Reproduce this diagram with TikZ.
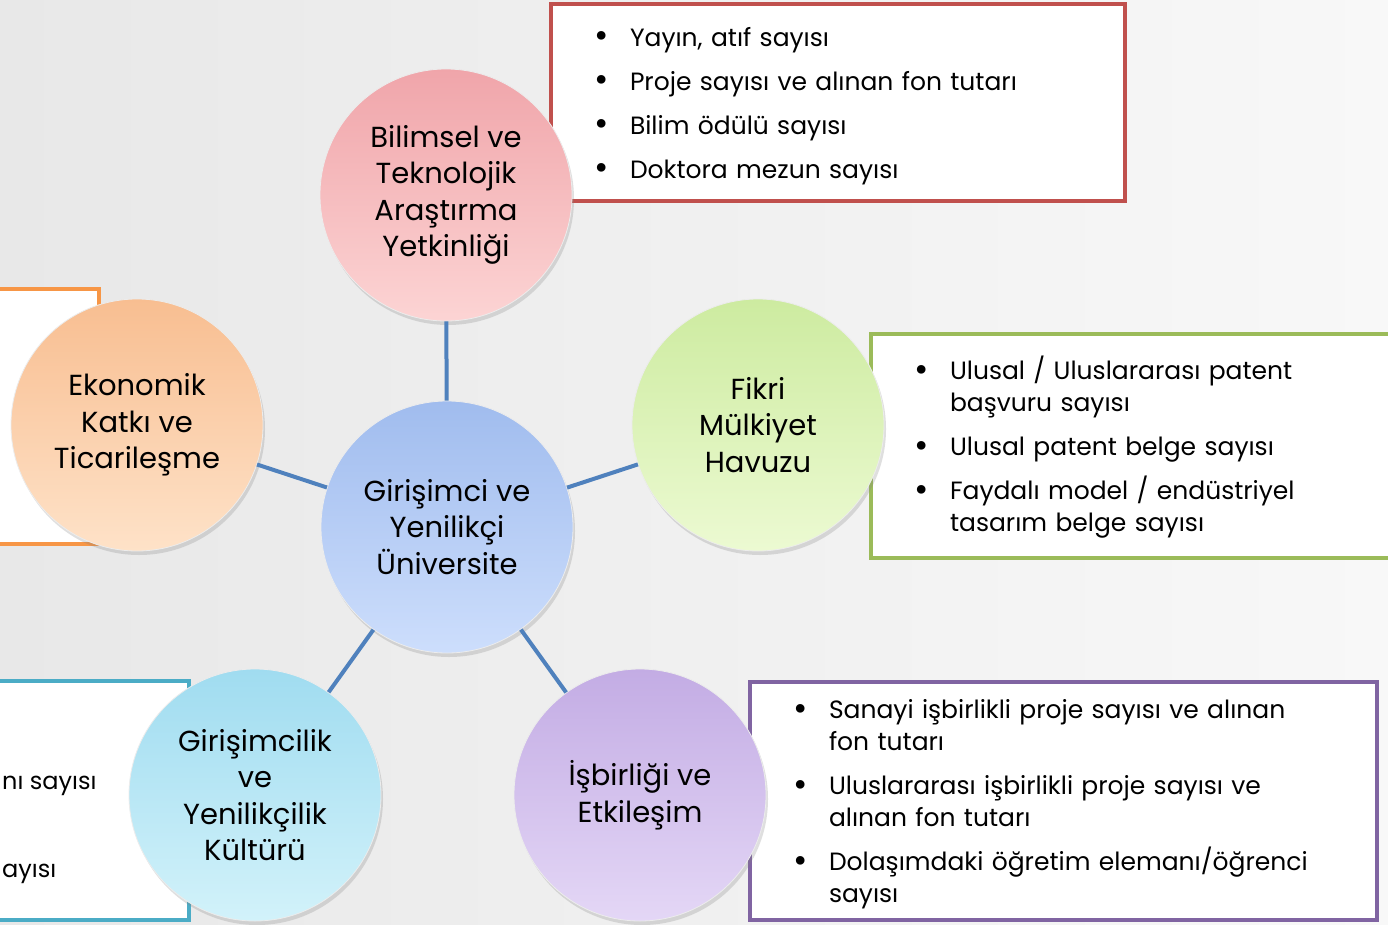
\documentclass[tikz,border=0pt]{standalone}
\usepackage{fontspec}
\setmainfont{Poppins}
\usetikzlibrary{shadows}
\definecolor{bgA}{RGB}{232,232,232}
\definecolor{bgB}{RGB}{248,248,248}
\definecolor{linkc}{RGB}{79,129,189}
\definecolor{redb}{RGB}{192,80,77}
\definecolor{greenb}{RGB}{155,187,89}
\definecolor{purpleb}{RGB}{128,100,162}
\definecolor{orangeb}{RGB}{247,150,70}
\definecolor{cyanb}{RGB}{75,172,198}
\definecolor{pinkT}{RGB}{240,165,170}\definecolor{pinkB}{RGB}{252,212,212}
\definecolor{blueT}{RGB}{160,188,238}\definecolor{blueB}{RGB}{205,222,252}
\definecolor{grnT}{RGB}{205,235,160}\definecolor{grnB}{RGB}{236,250,210}
\definecolor{purT}{RGB}{195,172,228}\definecolor{purB}{RGB}{228,215,246}
\definecolor{cyaT}{RGB}{160,220,240}\definecolor{cyaB}{RGB}{210,242,250}
\definecolor{oraT}{RGB}{248,190,145}\definecolor{oraB}{RGB}{254,226,200}
\newcommand{\bitem}[1]{\par\noindent\hangindent=32pt\hangafter=1\makebox[32pt][l]{\hspace{-4pt}\raisebox{-1.5pt}{\scalebox{1.4}{\textbullet}}}#1}
\newcommand{\nl}{\hfil\break}
\tikzset{
  ball/.style 2 args={circle, minimum size=252pt, inner sep=0pt, align=center,
     top color=#1, bottom color=#2, draw=white!85!gray, line width=0.8pt,
     font=\fontsize{29}{36.5}\selectfont,
     drop shadow={opacity=0.25, shadow xshift=2pt, shadow yshift=-4pt}},
  infobox/.style={rectangle, draw=#1, line width=4pt, fill=white, inner xsep=47pt, inner ysep=0pt,
     outer sep=0pt, align=left, anchor=north west,
     font=\fontsize{25}{32}\selectfont\setlength{\parskip}{12pt}},
  sidebox/.style={rectangle, draw=#1, line width=4pt, fill=white, outer sep=0pt, anchor=north east},
  link/.style={draw=linkc, line width=4pt}
}
\begin{document}
\begin{tikzpicture}[x=1pt,y=-1pt]
\useasboundingbox (0,0) rectangle (1388,925);
\clip (0,0) rectangle (1388,925);
\shade[left color=bgA, right color=bgB] (0,0) rectangle (1388,925);
% boxes
\node[infobox=redb, minimum width=574pt, minimum height=197pt, text width=480pt] (rbox) at (551,4)
  {\vspace*{-18pt}\bitem{Yayın, atıf sayısı}\bitem{Proje sayısı ve alınan fon tutarı}\bitem{Bilim ödülü sayısı}\bitem{Doktora mezun sayısı}\par};
\node[infobox=greenb, minimum width=540pt, minimum height=224pt, text width=446pt] (gbox) at (871,334)
  {\vspace*{-18pt}\bitem{Ulusal / Uluslararası patent\nl başvuru sayısı}\bitem{Ulusal patent belge sayısı}\bitem{Faydalı model / endüstriyel\nl tasarım belge sayısı}\par};
\node[infobox=purpleb, minimum width=627pt, minimum height=238pt, text width=533pt] (pbox) at (750,682)
  {\vspace*{-18pt}\bitem{Sanayi işbirlikli proje sayısı ve alınan\nl fon tutarı}\bitem{Uluslararası işbirlikli proje sayısı ve\nl alınan fon tutarı}\bitem{Dolaşımdaki öğretim elemanı/öğrenci\nl sayısı}\par};
\node[sidebox=orangeb, minimum width=200pt, minimum height=255pt] (obox) at (99,289) {};
\node[sidebox=cyanb, minimum width=300pt, minimum height=239pt] (cbox) at (189,681) {};
\node[anchor=base west, inner sep=0pt, font=\fontsize{24}{32}\selectfont] (ct1) at (2,789) {nı sayısı};
\node[anchor=base west, inner sep=0pt, font=\fontsize{24}{32}\selectfont] (ct2) at (2,877) {ayısı};
% circles
\node[ball={pinkT}{pinkB}] (top) at (446,195) {Bilimsel ve\\Teknolojik\\Araştırma\\Yetkinliği};
\node[ball={blueT}{blueB}] (cen) at (447,527) {Girişimci ve\\Yenilikçi\\Üniversite};
\node[ball={grnT}{grnB}] (rgt) at (758,425) {Fikri\\Mülkiyet\\Havuzu};
\node[ball={oraT}{oraB}] (lft) at (137,425) {Ekonomik\\Katkı ve\\Ticarileşme};
\node[ball={cyaT}{cyaB}] (bl) at (255,795) {Girişimcilik\\ve\\Yenilikçilik\\Kültürü};
\node[ball={purT}{purB}] (br) at (640,795) {İşbirliği ve\\Etkileşim};
% connectors
\draw[link] (cen) -- (top);
\draw[link] (cen) -- (rgt);
\draw[link] (cen) -- (lft);
\draw[link] (cen) -- (bl);
\draw[link] (cen) -- (br);
\end{tikzpicture}
\end{document}
